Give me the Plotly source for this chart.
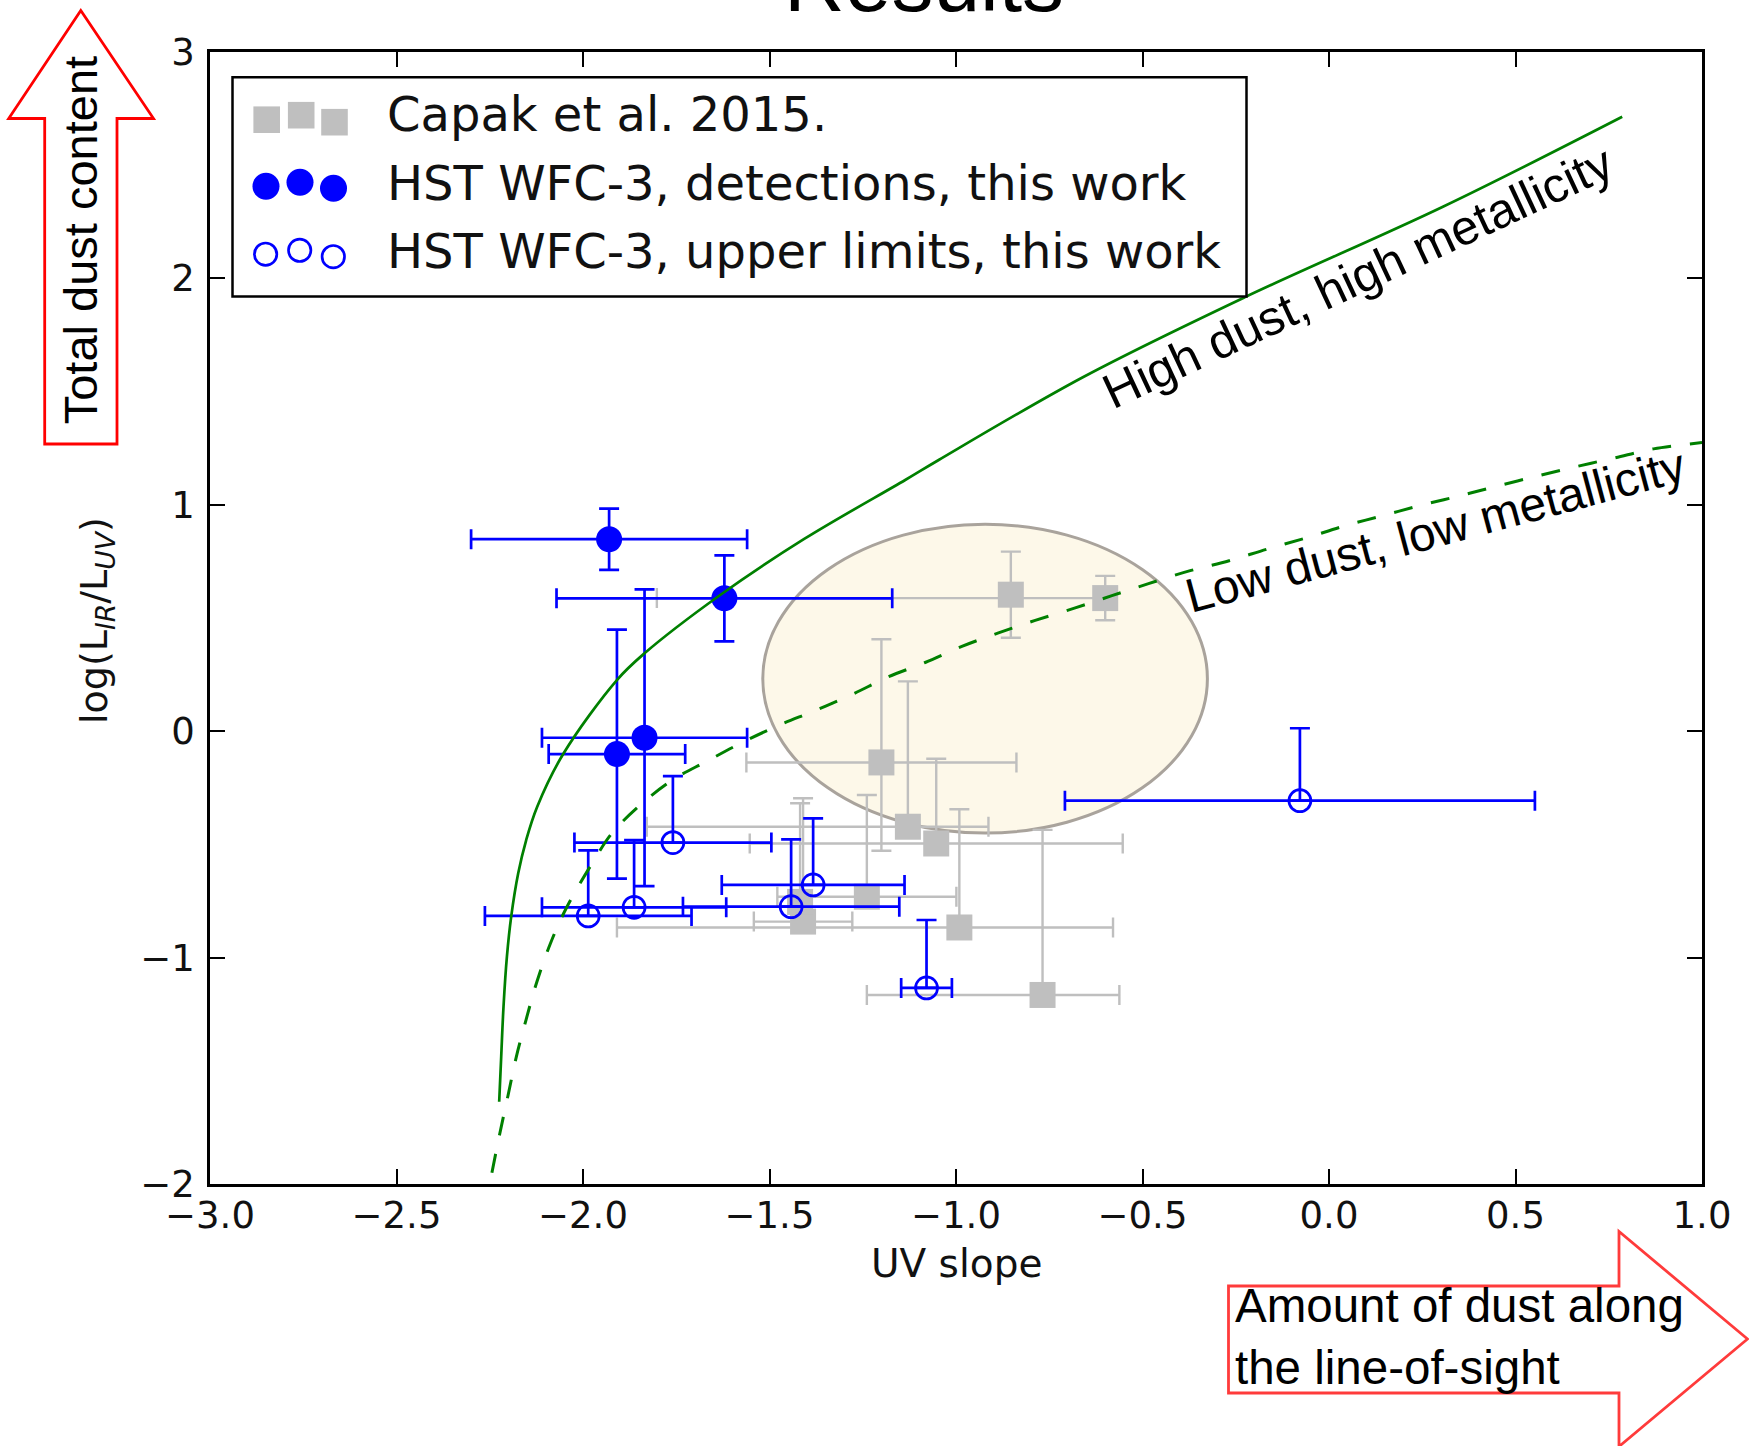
import plotly.graph_objects as go

# ---------------- data ----------------
# Capak et al. 2015 (UV slope, log IRX) with asymmetric errors
cap_beta = [-0.853, -0.600, -1.200, -1.129, -1.053, -1.239, -1.410, -0.991, -0.768, -1.418]
cap_irx = [0.603, 0.588, -0.138, -0.422, -0.496, -0.731, -0.841, -0.867, -1.165, -0.754]
cap_beta_lo = [0.0, 1.202, 0.362, 0.700, 0.500, 0.240, 0.132, 0.918, 0.471, 0.0]
cap_beta_hi = [0.0, 0.0, 0.362, 0.216, 0.500, 0.240, 0.132, 0.412, 0.206, 0.0]
cap_irx_lo = [0.19, 0.098, 0.39, 0.0, 0.0, 0.0, 0.0, 0.0, 0.0, 0.0]
cap_irx_hi = [0.19, 0.098, 0.544, 0.642, 0.374, 0.449, 0.545, 0.522, 0.729, 0.436]

# HST WFC-3 detections
det_beta = [-1.930, -1.621, -1.835, -1.909]
det_irx = [0.848, 0.587, -0.029, -0.101]
det_beta_err = [0.37, 0.45, 0.275, 0.183]
det_irx_err = [0.135, 0.19, 0.655, 0.55]

# HST WFC-3 upper limits
ul_beta = [-1.759, -1.986, -1.863, -1.442, -1.383, -1.079, -0.078]
ul_irx = [-0.492, -0.816, -0.778, -0.775, -0.679, -1.134, -0.307]
ul_beta_err = [0.264, 0.277, 0.247, 0.290, 0.245, 0.068, 0.630]
ul_irx_up = [0.294, 0.290, 0.297, 0.297, 0.294, 0.300, 0.320]
ul_irx_down = [0.0, 0.0, 0.0, 0.0, 0.0, 0.0, 0.0]

# IRX-beta relations
high_beta = [-2.2247, -2.2193, -2.2131, -2.2040, -2.1925, -2.1737, -2.1523, -2.1228,
             -2.0531, -1.9091, -1.8351, -1.6322, -1.4080, -1.1362, -1.0464, -0.6574,
             -0.2247, 0.3054, 0.7861]
high_irx = [-1.6365, -1.4377, -1.2169, -0.9960, -0.8193, -0.6276, -0.4806, -0.3334,
            -0.1007, 0.2261, 0.3441, 0.6016, 0.8480, 1.1095, 1.1980, 1.5658,
            1.9178, 2.3167, 2.7142]

low_beta = [-2.2442, -2.2239, -2.2013, -2.1791, -2.1523, -2.1236, -2.0879, -2.0450,
            -1.9673, -1.9225, -1.8466, -1.7601, -1.6705, -1.5732, -1.4767, -1.3775,
            -1.2791, -1.1810, -1.0826, -0.9842, -0.8861, -0.7877, -0.6804, -0.5820,
            -0.4839, -0.3721, -0.2676, -0.1649, -0.0619, 0.0408, 0.1434, 0.2464,
            0.3491, 0.4517, 0.5590, 0.6619, 0.7646, 0.8700, 1.0000]
low_irx = [-1.9501, -1.7836, -1.6113, -1.4404, -1.2725, -1.1064, -0.9399, -0.7822,
           -0.5614, -0.4510, -0.3260, -0.2156, -0.1347, -0.0499, 0.0248, 0.0914,
           0.1617, 0.2403, 0.3035, 0.3746, 0.4342, 0.4894, 0.5447, 0.5985,
           0.6520, 0.7090, 0.7531, 0.8048, 0.8534, 0.9064, 0.9519, 0.9978,
           1.0389, 1.0830, 1.1272, 1.1683, 1.2067, 1.2470, 1.2750]

x_ticks = [-3.0, -2.5, -2.0, -1.5, -1.0, -0.5, 0.0, 0.5, 1.0]
x_ticktext = ["\u22123.0", "\u22122.5", "\u22122.0", "\u22121.5", "\u22121.0", "\u22120.5", "0.0", "0.5", "1.0"]
y_ticks = [-2, -1, 0, 1, 2, 3]
y_ticktext = ["\u22122", "\u22121", "0", "1", "2", "3"]

# ---------------- styling ----------------
W, H = 1749, 1446
PL, PR, PT, PB = 210, 1702, 52, 1184   # plot area in page pixels
GRAY = "#bfbfbf"
BLUE = "#0000ff"
GREEN = "#008000"
SANS = "DejaVu Sans"
SLIDE = "Liberation Sans"


def px(xp):
    return (xp - PL) / (PR - PL)


def py(yp):
    return (PB - yp) / (PB - PT)


fig = go.Figure()

fig.add_trace(go.Scatter(
    x=cap_beta, y=cap_irx, mode="markers", showlegend=False, hoverinfo="skip",
    marker=dict(symbol="square", size=26, color=GRAY, line=dict(width=0)),
    error_x=dict(type="data", symmetric=False, array=cap_beta_hi, arrayminus=cap_beta_lo,
                 color=GRAY, thickness=2.4, width=10),
    error_y=dict(type="data", symmetric=False, array=cap_irx_hi, arrayminus=cap_irx_lo,
                 color=GRAY, thickness=2.4, width=10),
))

fig.add_trace(go.Scatter(
    x=det_beta, y=det_irx, mode="markers", showlegend=False, hoverinfo="skip",
    marker=dict(symbol="circle", size=26, color=BLUE, line=dict(width=0)),
    error_x=dict(type="data", array=det_beta_err, color=BLUE, thickness=2.7, width=10),
    error_y=dict(type="data", array=det_irx_err, color=BLUE, thickness=2.7, width=10),
))

fig.add_trace(go.Scatter(
    x=ul_beta, y=ul_irx, mode="markers", showlegend=False, hoverinfo="skip",
    marker=dict(symbol="circle-open", size=22, color=BLUE, line=dict(width=2.7, color=BLUE)),
    error_x=dict(type="data", array=ul_beta_err, color=BLUE, thickness=2.7, width=10),
    error_y=dict(type="data", symmetric=False, array=ul_irx_up, arrayminus=ul_irx_down,
                 color=BLUE, thickness=2.7, width=10),
))

fig.add_trace(go.Scatter(
    x=high_beta, y=high_irx, mode="lines", showlegend=False, hoverinfo="skip",
    line=dict(color=GREEN, width=2.7, shape="spline", smoothing=1.0),
))
fig.add_trace(go.Scatter(
    x=low_beta, y=low_irx, mode="lines", showlegend=False, hoverinfo="skip",
    line=dict(color=GREEN, width=3, dash="19px,19px", shape="spline", smoothing=1.0),
))

shapes = []
# highlighted region
shapes.append(dict(type="circle", xref="x", yref="y", x0=-1.518, x1=-0.326, y0=-0.450, y1=0.914,
                   fillcolor="#fdf8e9", line=dict(color="#a9a39c", width=3), layer="below"))

# legend frame
shapes.append(dict(type="rect", xref="paper", yref="paper",
                   x0=px(232.5), x1=px(1246.5), y0=py(296.5), y1=py(77.3),
                   fillcolor="white", line=dict(color="black", width=2.5), layer="above"))

# legend glyphs: three offset symbols per entry
for cx, cy in [(266.7, 119.7), (301.2, 115.2), (334.5, 122.2)]:
    s = 13.3
    shapes.append(dict(type="rect", xref="paper", yref="paper",
                       x0=px(cx - s), x1=px(cx + s), y0=py(cy + s), y1=py(cy - s),
                       fillcolor=GRAY, line=dict(width=0), layer="above"))
for cx, cy in [(266.0, 186.3), (300.0, 182.2), (333.5, 188.3)]:
    r = 13.5
    shapes.append(dict(type="circle", xref="paper", yref="paper",
                       x0=px(cx - r), x1=px(cx + r), y0=py(cy + r), y1=py(cy - r),
                       fillcolor=BLUE, line=dict(width=0), layer="above"))
for cx, cy in [(265.6, 254.2), (299.7, 250.3), (333.3, 256.7)]:
    r = 11.2
    shapes.append(dict(type="circle", xref="paper", yref="paper",
                       x0=px(cx - r), x1=px(cx + r), y0=py(cy + r), y1=py(cy - r),
                       fillcolor="rgba(0,0,0,0)", line=dict(color=BLUE, width=2.7), layer="above"))


def poly(points):
    return "M " + " L ".join(f"{px(a):.5f},{py(b):.5f}" for a, b in points) + " Z"


# vertical block arrow
up_arrow = [(80.8, 10.5), (153.5, 118.5), (117.0, 118.5), (117.0, 444.0),
            (44.7, 444.0), (44.7, 118.5), (8.7, 118.5)]
shapes.append(dict(type="path", xref="paper", yref="paper", path=poly(up_arrow),
                   fillcolor="rgba(0,0,0,0)", line=dict(color="#ff0000", width=2.8), layer="above"))
# horizontal block arrow
right_arrow = [(1228.5, 1286.0), (1619.0, 1286.0), (1619.0, 1231.5), (1747.5, 1339.0),
               (1619.0, 1446.5), (1619.0, 1393.0), (1228.5, 1393.0)]
shapes.append(dict(type="path", xref="paper", yref="paper", path=poly(right_arrow),
                   fillcolor="rgba(0,0,0,0)", line=dict(color="#ff3b3b", width=2.8), layer="above"))

annotations = [
    dict(text="Results", xref="paper", yref="paper", x=px(924), y=py(-18),
         xanchor="center", yanchor="middle", showarrow=False,
         font=dict(family=SLIDE, size=84, color="black")),
    dict(text="log(L<sub><i>IR</i></sub>/L<sub><i>UV</i></sub>)", xref="paper", yref="paper",
         x=px(96), y=py(621), xanchor="center", yanchor="middle", textangle=-90, showarrow=False,
         font=dict(family=SANS, size=38, color="#111111")),
    dict(text="UV slope", xref="paper", yref="paper", x=px(956), y=py(1263),
         xanchor="center", yanchor="middle", showarrow=False,
         font=dict(family=SANS, size=39, color="#111111")),
    dict(text="High dust, high metallicity", xref="x", yref="y", x=0.0769, y=2.0053,
         xanchor="center", yanchor="middle", textangle=-25, showarrow=False,
         font=dict(family=SLIDE, size=49, color="black")),
    dict(text="Low dust, low metallicity", xref="x", yref="y", x=0.2855, y=0.8856,
         xanchor="center", yanchor="middle", textangle=-15, showarrow=False,
         font=dict(family=SLIDE, size=48, color="black")),
    dict(text="Total dust content", xref="paper", yref="paper", x=px(81.3), y=py(240),
         xanchor="center", yanchor="middle", textangle=-90, showarrow=False,
         font=dict(family=SLIDE, size=47, color="black")),
    dict(text="Amount of dust along<br>the line-of-sight", xref="paper", yref="paper",
         x=px(1233), y=py(1336.8), xanchor="left", yanchor="middle", align="left",
         showarrow=False, font=dict(family=SLIDE, size=47.5, color="black")),
]

legend_rows = [("Capak et al. 2015.", 113.6),
               ("HST WFC-3, detections, this work", 182.6),
               ("HST WFC-3, upper limits, this work", 250.6)]
for label, cy in legend_rows:
    annotations.append(dict(text=label, xref="paper", yref="paper", x=px(386), y=py(cy),
                            xanchor="left", yanchor="middle", showarrow=False, borderpad=0,
                            font=dict(family=SANS, size=48, color="#111111")))

axis_common = dict(showgrid=False, zeroline=False, showline=True, linecolor="black", linewidth=2.5,
                   mirror="ticks", ticks="inside", ticklen=15, tickwidth=1.5, tickcolor="black",
                   tickfont=dict(family=SANS, size=37, color="#111111"), automargin=False)

fig.update_layout(
    width=W, height=H, autosize=False,
    margin=dict(l=PL, r=W - PR, t=PT, b=H - PB, pad=0),
    paper_bgcolor="white", plot_bgcolor="white",
    xaxis=dict(range=[-3, 1], tickmode="array", tickvals=x_ticks, ticktext=x_ticktext,
               ticklabelstandoff=-3, **axis_common),
    yaxis=dict(range=[-2, 3], tickmode="array", tickvals=y_ticks, ticktext=y_ticktext,
               ticklabelstandoff=5, **axis_common),
    shapes=shapes,
    annotations=annotations,
    showlegend=False,
)

fig.write_html("out.html")
